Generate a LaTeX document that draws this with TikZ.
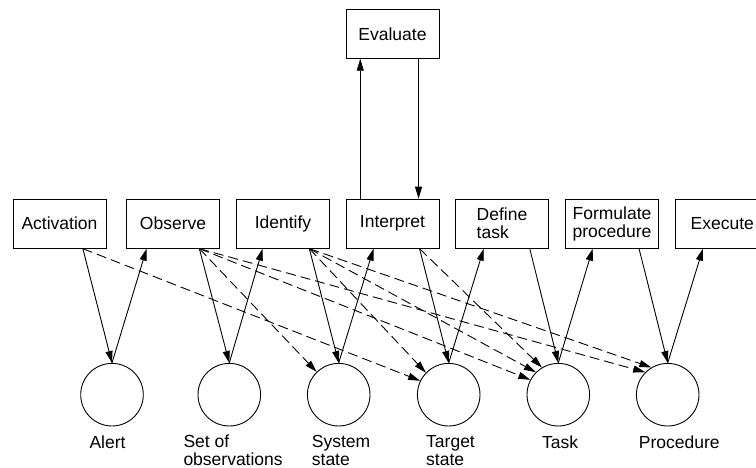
\documentclass[tikz,border=0pt]{standalone}
\usepackage{fontspec}
\setmainfont{Liberation Sans}
\usetikzlibrary{calc,arrows.meta}
\begin{document}
\begin{tikzpicture}[x=1bp,y=-1bp,
  font=\fontsize{17.5bp}{18bp}\selectfont,
  stepbox/.style={draw,line width=0.9bp,minimum width=93bp,minimum height=49bp,inner sep=0pt,align=left},
  statecircle/.style={draw,circle,line width=0.9bp,minimum size=62.6bp,inner sep=0pt},
  caption/.style={anchor=base west,inner sep=0pt,align=left},
  flow/.style={line width=0.9bp,-{Triangle[length=12bp,width=7bp]}},
  influence/.style={flow,dash pattern=on 10bp off 5bp}]
\useasboundingbox (0,0) rectangle (756,468);

% activity boxes
\node[stepbox] (act) at (59.5,223.7) {Activation};
\node[stepbox] (obs) at (173,223.7) {Observe};
\node[stepbox] (ide) at (283,223.7) {Identify};
\node[stepbox] (int) at (392.5,223.7) {Interpret};
\node[stepbox] (def) at (502,223.7) {Define\\task};
\node[stepbox] (frm) at (612,223.7) {Formulate\\procedure};
\node[stepbox] (exe) at (722.3,223.7) {Execute};
\node[stepbox] (eva) at (392.5,33.8) {Evaluate};

% knowledge states
\node[statecircle] (alert) at (112,394.7) {};
\node[statecircle] (obsset) at (229.3,394.7) {};
\node[statecircle] (sys) at (338.7,394.7) {};
\node[statecircle] (tgt) at (448.7,394.7) {};
\node[statecircle] (task) at (558.3,394.7) {};
\node[statecircle] (proc) at (667.7,394.7) {};

% state captions (the base anchor sits on the last line)
\node[caption] (alert-l) at (89.3,448) {Alert};
\node[caption] (obsset-l) at (183.3,465.7) {Set of\\observations};
\node[caption] (sys-l) at (311.7,465.7) {System\\state};
\node[caption] (tgt-l) at (426,465.7) {Target\\state};
\node[caption] (task-l) at (542,448) {Task};
\node[caption] (proc-l) at (638.7,448) {Procedure};

% ports on the box edges
\coordinate (act-out) at ($(act.south west)+(70.3,0)$);
\coordinate (obs-in) at ($(obs.south west)+(20.6,0)$);
\coordinate (obs-out) at ($(obs.south west)+(73.3,0)$);
\coordinate (ide-in) at ($(ide.south west)+(26.6,0)$);
\coordinate (ide-out) at ($(ide.south west)+(73.3,0)$);
\coordinate (int-in) at ($(int.south west)+(28,0)$);
\coordinate (int-out) at ($(int.south west)+(74,0)$);
\coordinate (def-in) at ($(def.south west)+(28.7,0)$);
\coordinate (def-out) at ($(def.south west)+(74.7,0)$);
\coordinate (frm-in) at ($(frm.south west)+(27.7,0)$);
\coordinate (frm-out) at ($(frm.south west)+(74,0)$);
\coordinate (exe-in) at ($(exe.south west)+(27.6,0)$);
\coordinate (int-up) at ($(int.north west)+(14.7,0)$);
\coordinate (int-down) at ($(int.north west)+(73,0)$);
\coordinate (eva-up) at ($(eva.south west)+(14.7,0)$);
\coordinate (eva-down) at ($(eva.south west)+(73,0)$);

% main sequence
\draw[flow] (act-out) -- (alert.north);
\draw[flow] (alert.north) -- (obs-in);
\draw[flow] (obs-out) -- (obsset.north);
\draw[flow] (obsset.north) -- (ide-in);
\draw[flow] (ide-out) -- (sys.north);
\draw[flow] (sys.north) -- (int-in);
\draw[flow] (int-out) -- (tgt.north);
\draw[flow] (tgt.north) -- (def-in);
\draw[flow] (def-out) -- (task.north);
\draw[flow] (task.north) -- (frm-in);
\draw[flow] (frm-out) -- (proc.north);
\draw[flow] (proc.north) -- (exe-in);

% evaluation loop
\draw[flow] (int-up) -- (eva-up);
\draw[flow] (eva-down) -- (int-down);

% shortcuts
\draw[influence] (act-out) -- (tgt.154);
\draw[influence] (obs-out) -- (sys.134);
\draw[influence] (obs-out) -- (task.152);
\draw[influence] (obs-out) -- (proc.135);
\draw[influence] (ide-out) -- (tgt.136);
\draw[influence] (ide-out) -- (task.135);
\draw[influence] (ide-out) -- (proc.121);
\draw[influence] (int-out) -- (task.121);
\end{tikzpicture}
\end{document}
